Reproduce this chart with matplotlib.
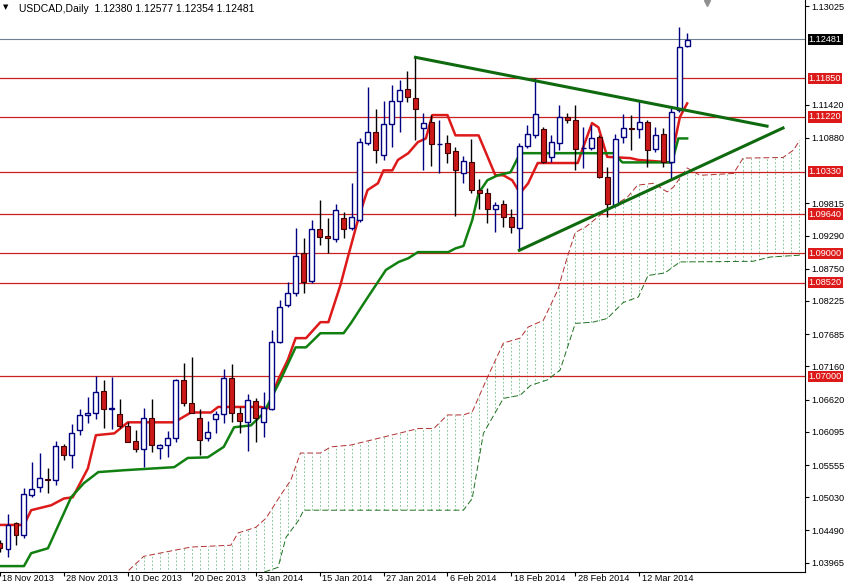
import numpy as np
import matplotlib
matplotlib.use("Agg")
import matplotlib.pyplot as plt
import matplotlib.transforms as mtransforms

plt.rcParams["font.family"] = ["Liberation Sans", "DejaVu Sans"]

# OHLC in pips (price * 10000)
opens = [10428,10419,10461,10441,10506,10519,10532,10531,10586,10571,10612,10637,10640,10676,10646,10638,10619,10594,10581,10632,
         10583,10588,10599,10694,10656,10632,10599,10630,10638,10697,10640,10625,10659,10625,10646,10755,10816,10835,10900,10855,
         10939,10928,10923,10957,10941,10954,11079,11097,11060,11110,11148,11167,11153,11104,11113,11078,11079,11066,11030,11048,
         11003,10998,10972,10980,10959,10941,11074,11092,11102,11056,11079,11122,11117,11071,11071,11089,11024,10978,11089,11104,
         11102,11113,11069,11095,11048,11133,11238]
highs = [10433,10475,10462,10518,10560,10575,10550,10594,10589,10622,10646,10666,10700,10694,10698,10663,10625,10612,10648,10663,
         10590,10611,10695,10721,10731,10646,10627,10643,10711,10720,10650,10671,10664,10674,10775,10824,10853,10941,10925,10954,
         10986,10957,10980,10967,11014,11087,11170,11135,11148,11174,11182,11196,11221,11128,11125,11117,11092,11073,11058,11086,
         11021,11006,10983,10986,10972,11079,11109,11185,11105,11092,11141,11128,11141,11105,11109,11092,11040,11095,11126,11125,
         11148,11117,11105,11104,11136,11268,11258]
lows = [10414,10405,10425,10436,10503,10511,10510,10523,10563,10550,10604,10624,10630,10615,10614,10615,10593,10576,10552,10576,
        10565,10568,10593,10651,10640,10571,10594,10607,10624,10625,10607,10578,10593,10601,10645,10754,10812,10830,10835,10851,
        10913,10900,10918,10925,10938,10951,11076,11047,11052,11073,11097,11146,11084,11035,11042,11030,11047,10960,11014,10998,
        10972,10949,10934,10943,10933,10905,11071,11087,11047,11048,11068,11112,11035,11039,11068,11022,10959,10975,11079,11068,
        11087,11040,11065,11040,11019,11130,11235]
closes = [10420,10458,10441,10508,10516,10534,10531,10586,10571,10607,10637,10640,10674,10646,10648,10619,10593,10581,10632,10588,
          10588,10599,10694,10656,10640,10597,10609,10638,10697,10640,10627,10661,10632,10648,10755,10812,10835,10895,10853,10939,
          10926,10925,10970,10939,10959,11081,11097,11068,11110,11148,11166,11154,11135,11112,11078,11078,11063,11035,11050,11003,
          10998,10972,10978,10959,10943,11074,11094,11126,11048,11081,11122,11117,11069,11071,11087,11024,10980,11086,11104,11102,
          11113,11068,11092,11048,11130,11236,11248]

# Ichimoku lines as breakpoints (bar index, pips)
tenkan_x = [0.1,3,3.9,6.4,8,9.1,11,12,14.3,16,21.8,23.9,26.4,27.3,32.6,33.5,34.8,36,37,38.3,40.1,41.1,42.6,43.5,44.9,46,47.3,48,
            49.1,49.8,51.1,52.3,53.3,54.1,56,57,59.9,62,63,64.1,65.1,66.1,67.3,72.3,73,74.1,74.9,76,78.9,79.9,83.9,85.1,86]
tenkan_y = [10458,10458,10482,10490,10501,10503,10550,10604,10607,10625,10625,10641,10641,10650,10650,10648,10694,10726,10762,10762,
            10788,10788,10848,10892,10959,11003,11014,11035,11035,11052,11063,11081,11087,11125,11125,11092,11092,11027,11027,11019,
            10998,11014,11047,11047,11073,11112,11105,11057,11055,11052,11048,11122,11144]
kijun_x = [0.1,3,3.9,6,8.9,10.5,12.3,15.5,21.8,23.5,26,28,29.3,31.4,33,35.1,37,38.3,40.1,43,43.9,45.8,48.3,49.9,51.1,52.3,56.1,57,58,
           59.1,59.9,61,62.3,63.9,65.1,76.8,77.9,84.1,84.9,86]
kijun_y = [10391,10391,10412,10420,10503,10526,10544,10547,10552,10567,10568,10585,10617,10620,10640,10694,10747,10747,10770,10770,
           10786,10824,10873,10886,10892,10902,10902,10908,10912,10954,10998,11019,11027,11032,11063,11063,11048,11048,11087,11087]
spanA_x = [16.1,18,23.9,28.9,29.8,32,33.3,35.1,36.4,37.6,40.1,41.4,43.9,52.4,54.3,56,58,59.1,61,63,65.1,66.1,68,69.8,71,72,73.3,
           75.1,76.8,78.5,79.8,81.8,83.5,84.3,86,87.6,91.8,93,98,99.3,100.1]
spanA_y = [10384,10407,10422,10425,10445,10454,10469,10506,10531,10575,10575,10585,10588,10615,10615,10637,10637,10642,10698,10754,
           10762,10780,10791,10840,10894,10934,10943,10962,10978,10991,11011,11014,11000,11008,11039,11027,11030,11055,11056,11068,11084]
spanB_x = [16.1,32,33,34.8,35.8,37.4,38,58,59.1,60.5,63,65.1,66.4,68.5,70.1,72,74.2,76,78,79.9,81.1,83.2,85.1,94.2,96.4,100.1]
spanB_y = [10336,10336,10381,10389,10438,10466,10482,10482,10501,10607,10664,10669,10685,10694,10710,10786,10788,10794,10820,10829,
           10864,10868,10886,10887,10894,10897]

# trend lines (bar index, pips)
down_line = ([52, 96], [11219, 11107])
up_line = ([65, 98], [10905, 11104])

levels = [1.1185, 1.1122, 1.1033, 1.0964, 1.0900, 1.0852, 1.0700]
last_price = 1.12481
axis_ticks = [1.13025, 1.11420, 1.10880, 1.09815, 1.09290, 1.08750, 1.08225, 1.07685, 1.07160,
              1.06620, 1.06095, 1.05555, 1.05030, 1.04490, 1.03965]
date_labels = ["18 Nov 2013", "28 Nov 2013", "10 Dec 2013", "20 Dec 2013", "3 Jan 2014", "15 Jan 2014",
               "27 Jan 2014", "6 Feb 2014", "18 Feb 2014", "28 Feb 2014", "12 Mar 2014"]
date_pos = [0, 8, 16, 24, 32, 40, 48, 56, 64, 72, 80]

p = lambda v: np.asarray(v) / 10000.0
o, h, l, c = p(opens), p(highs), p(lows), p(closes)

fig = plt.figure(figsize=(8.45, 5.87), dpi=100)
ax = fig.add_axes([0, 15 / 587, 805 / 845, 572 / 587])
ax.set_xlim(0.125, 100.75)
ax.set_ylim(1.03814, 1.13123)

# cloud: dotted vertical hatching between the spans
for i in range(17, 101):
    a = np.interp(i, spanA_x, p(spanA_y))
    b = np.interp(i, spanB_x, p(spanB_y))
    ax.plot([i, i], [min(a, b), max(a, b)], color="#6fb88a", lw=0.6, ls=(0, (2, 2.5)), zorder=1)
ax.plot(spanA_x, p(spanA_y), color="#b03030", lw=0.7, ls=(0, (6, 3)), zorder=2)
ax.plot(spanB_x, p(spanB_y), color="#207020", lw=0.7, ls=(0, (6, 3)), zorder=2)

for lv in levels:
    ax.axhline(lv, color="#cc2020", lw=0.9, zorder=1)
ax.axhline(last_price, color="#708090", lw=0.8, zorder=1)

ax.plot(tenkan_x, p(tenkan_y), color="#dd1a1a", lw=1.8, zorder=3)
ax.plot(kijun_x, p(kijun_y), color="#118011", lw=1.8, zorder=3)

# candles
idx = np.arange(len(o))
bull = c >= o
ax.vlines(idx[bull], l[bull], h[bull], color="#000080", lw=1, zorder=4)
ax.vlines(idx[~bull], l[~bull], h[~bull], color="black", lw=1, zorder=4)
ax.bar(idx[bull], c[bull] - o[bull], bottom=o[bull], width=0.62, color="white",
       edgecolor="#000080", lw=1, zorder=5)
ax.bar(idx[~bull], o[~bull] - c[~bull], bottom=c[~bull], width=0.62, color="#cc1a1a",
       edgecolor="#400000", lw=0.8, zorder=5)

ax.plot(down_line[0], p(down_line[1]), color="#0f6a0f", lw=2.2, zorder=6)
ax.plot(up_line[0], p(up_line[1]), color="#0f6a0f", lw=2.2, zorder=6)

# axes styling
for s in ["top", "left"]:
    ax.spines[s].set_visible(False)
ax.yaxis.tick_right()
ax.set_yticks(axis_ticks)
ax.set_yticklabels([f"{t:.5f}" for t in axis_ticks], fontsize=6.6)
ax.tick_params(axis="y", direction="out", length=3, pad=1.5)
ax.set_xticks(date_pos)
ax.set_xticklabels([])
ax.tick_params(axis="x", direction="out", length=3)
xtrans = mtransforms.blended_transform_factory(ax.transData, ax.transAxes)
for pos, lab in zip(date_pos, date_labels):
    ax.text(pos + 0.3, -0.004, lab, transform=xtrans, fontsize=6.6, ha="left", va="top", clip_on=False)

ytrans = mtransforms.blended_transform_factory(ax.transAxes, ax.transData)
for lv in levels:
    ax.text(1.0045, lv, f"{lv:.5f}", transform=ytrans, fontsize=6.6, color="white", va="center", ha="left",
            bbox=dict(boxstyle="square,pad=0.12", fc="#dd1a1a", ec="none"), clip_on=False, zorder=10)
ax.text(1.0045, last_price, f"{last_price:.5f}", transform=ytrans, fontsize=6.6, color="white", va="center",
        ha="left", bbox=dict(boxstyle="square,pad=0.12", fc="black", ec="none"), clip_on=False, zorder=10)

fig.text(0.022, 0.993, "USDCAD,Daily  1.12380 1.12577 1.12354 1.12481", fontsize=7.5, va="top", ha="left")
fig.text(0.004, 0.993, "\u25BC", fontsize=5, va="top", ha="left", family="DejaVu Sans")
ax.plot([88.5], [1.1308], marker="v", color="#909090", ms=5, clip_on=False)

fig.savefig("out.png", dpi=100)
